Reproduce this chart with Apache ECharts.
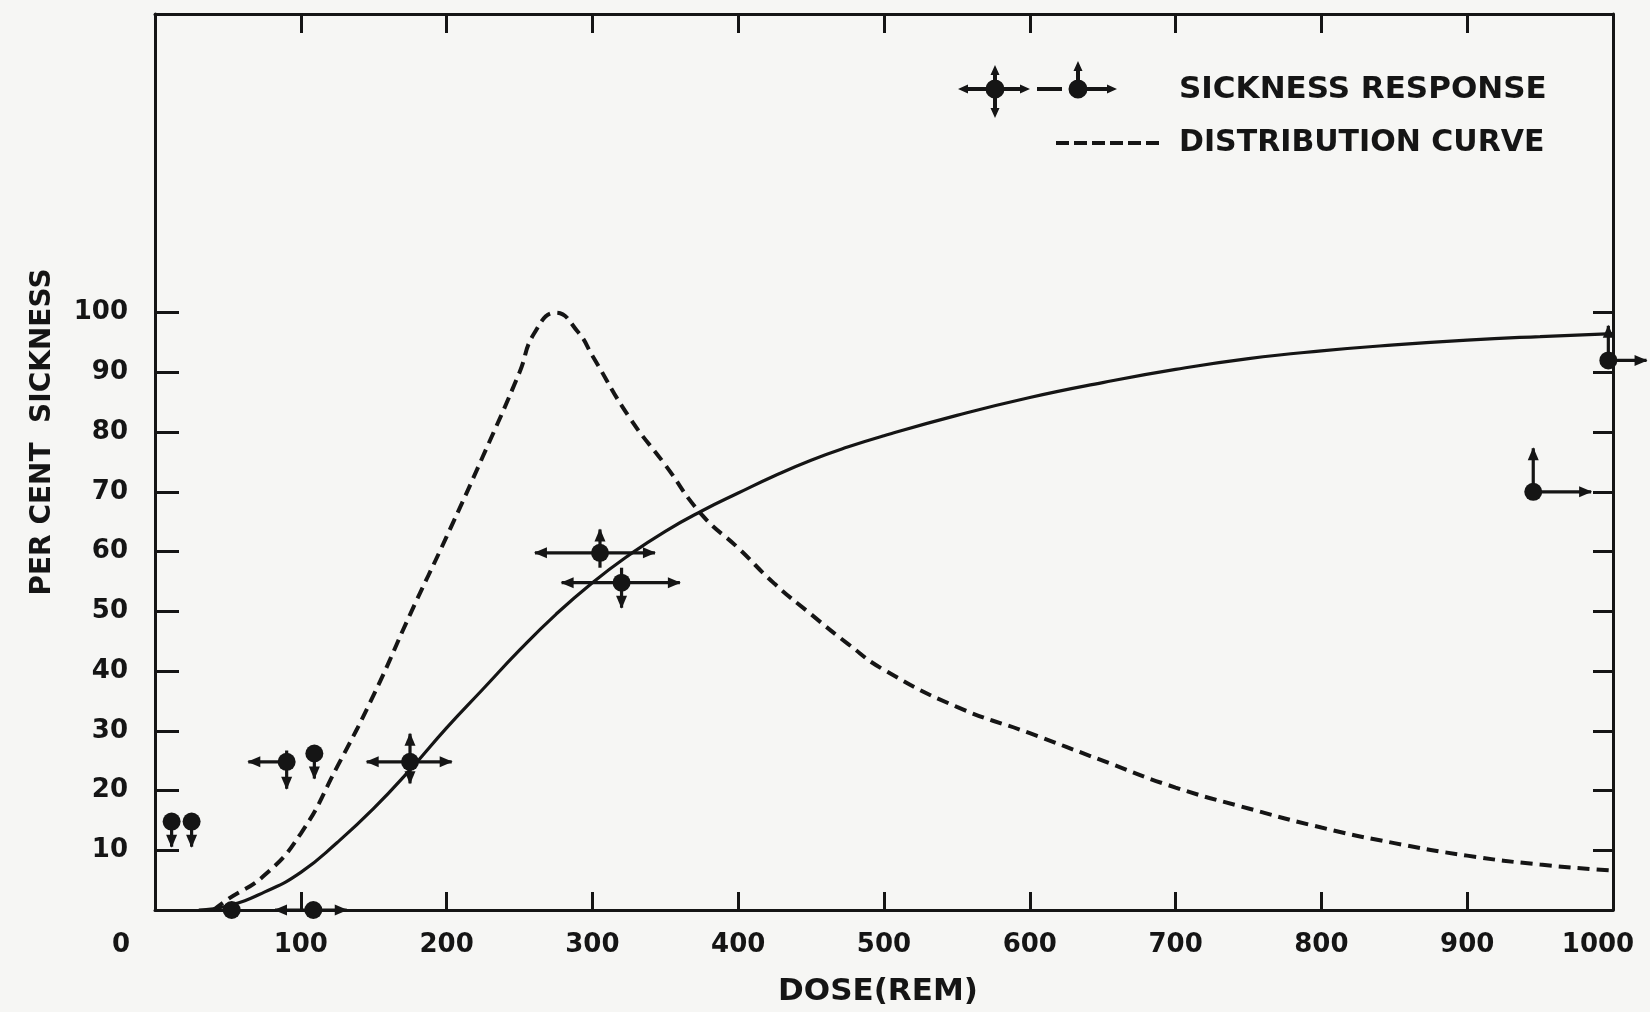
<!DOCTYPE html>
<html><head><meta charset="utf-8">
<script src="https://cdn.jsdelivr.net/npm/echarts@6/dist/echarts.min.js"></script>
<style>html,body{margin:0;padding:0;background:#f6f6f4}#c{width:1650px;height:1012px}</style>
</head><body><div id="c"></div>
<script>
// ---- data ----
const xTickValues = [100, 200, 300, 400, 500, 600, 700, 800, 900];
const yTickValues = [10, 20, 30, 40, 50, 60, 70, 80, 90, 100];

// solid (cumulative) response curve
const fitDose = [30, 50, 75, 100, 125, 150, 175, 200, 225, 250, 275, 300, 325, 350, 375, 400, 425, 450, 475, 500, 550, 600, 650, 700, 750, 800, 850, 900, 950, 1000];
const fitPct  = [0, 0.7, 3, 6.3, 11.3, 17, 23.5, 30.5, 37, 43.5, 49.5, 54.8, 59.4, 63.4, 66.8, 69.8, 72.7, 75.3, 77.5, 79.4, 82.8, 85.8, 88.3, 90.5, 92.3, 93.6, 94.6, 95.4, 96, 96.5];

// dashed distribution curve
const distDose = [40, 50, 75, 100, 125, 150, 175, 200, 225, 250, 260, 275, 290, 300, 325, 350, 375, 400, 425, 450, 475, 500, 550, 600, 650, 700, 750, 800, 850, 900, 950, 1000];
const distPct  = [0, 1.8, 5.8, 12.8, 24, 36, 49.5, 62.5, 76, 90, 96.5, 100, 96.8, 92.8, 82.6, 74.5, 66.2, 60.6, 54.6, 49.5, 44.6, 40.2, 34, 29.6, 25, 20.5, 17, 13.8, 11.2, 9.1, 7.6, 6.6];

// sickness response points with arrow extents (data units); heads = which ends carry arrowheads
const respDose  = [11.4, 25.1, 90.3, 109.3, 174.9, 52.6, 108.6, 305.2, 320, 945.3, 996.8];
const respPct   = [14.8, 14.8, 24.8, 26.2, 24.8, 0, 0, 59.8, 54.8, 70, 92];
const respLeft  = [null, null, 64, null, 145.2, null, 82.3, 260.6, 278.9, null, null];
const respRight = [null, null, null, null, 203.5, null, 131.5, 342.9, 360, 985, 1023];
const respDown  = [10.6, 10.6, 20.3, 22, 21.2, null, null, 57.3, 50.6, null, null];
const respUp    = [null, null, 26.7, null, 29.5, null, null, 63.7, 57.3, 77.3, 97.8];
const respHeads = ['D', 'D', 'LD', 'D', 'LRDU', '', 'LR', 'LRU', 'LRD', 'RU', 'RU'];

// ---- chart ----
const INK = '#151515';
const FONT = 'DejaVu Sans';
const chart = echarts.init(document.getElementById('c'));

function renderResp(params, api) {
  const i = params.dataIndex;
  const c = api.coord([api.value(0), api.value(1)]);
  const kids = [];
  const heads = respHeads[i];
  function arm(tx, ty, key) {
    const e = api.coord([tx, ty]);
    kids.push({type: 'line', shape: {x1: c[0], y1: c[1], x2: e[0], y2: e[1]}, style: {stroke: INK, lineWidth: 3.2}});
    if (heads.indexOf(key) >= 0) {
      const dx = e[0] - c[0], dy = e[1] - c[1];
      const L = Math.hypot(dx, dy) || 1, ux = dx / L, uy = dy / L;
      const bx = e[0] - ux * 12, by = e[1] - uy * 12;
      kids.push({type: 'polygon', shape: {points: [[e[0] + ux, e[1] + uy], [bx - uy * 5.5, by + ux * 5.5], [bx + uy * 5.5, by - ux * 5.5]]}, style: {fill: INK}});
    }
  }
  if (respLeft[i] != null) arm(respLeft[i], respPct[i], 'L');
  if (respRight[i] != null) arm(respRight[i], respPct[i], 'R');
  if (respDown[i] != null) arm(respDose[i], respDown[i], 'D');
  if (respUp[i] != null) arm(respDose[i], respUp[i], 'U');
  kids.push({type: 'circle', shape: {cx: c[0], cy: c[1], r: 9}, style: {fill: INK}});
  return {type: 'group', children: kids};
}

const respIcon = 'path://' +
  'M0,28L10,23.5L10,32.5Z M9,26h57v4h-57Z M72,28L62,32.5L62,23.5Z ' +
  'M79,26h25v4h-25Z ' +
  'M120,26h31v4h-31Z M159,28L149,32.5L149,23.5Z ' +
  'M35,12h4v38h-4Z M37,4L41.5,14L32.5,14Z M37,57L32.5,47L41.5,47Z ' +
  'M118,7h4v21h-4Z M120,0L124.5,10L115.5,10Z ' +
  'M46.5,28A9.5,9.5 0 1,1 27.5,28A9.5,9.5 0 1,1 46.5,28Z ' +
  'M129.5,28A9.5,9.5 0 1,1 110.5,28A9.5,9.5 0 1,1 129.5,28Z';
const dashIcon = 'path://M0,0h13v4h-13Z M18,0h13v4h-13Z M36,0h13v4h-13Z M54,0h13v4h-13Z M72,0h13v4h-13Z M90,0h13v4h-13Z';

const labelStyle = {fontFamily: FONT, fontSize: 26, fontWeight: 'bold', color: INK};
const axisLine = {show: true, onZero: false, lineStyle: {color: INK, width: 3}};

chart.setOption({
  backgroundColor: '#f6f6f4',
  animation: false,
  grid: {left: 155, right: 37, top: 14, bottom: 100, containLabel: false},
  legend: [
    {left: 953, top: 56, orient: 'horizontal', selectedMode: false,
     data: [{name: 'SICKNESS RESPONSE', icon: respIcon}],
     itemWidth: 159, itemHeight: 57, itemStyle: {borderWidth: 0},
     textStyle: {fontFamily: FONT, fontSize: 31, fontWeight: 'bold', color: INK, padding: [0, 0, 0, 57]}},
    {left: 1051, top: 123, orient: 'horizontal', selectedMode: false,
     data: [{name: 'DISTRIBUTION CURVE', icon: dashIcon}],
     itemWidth: 103, itemHeight: 4, itemStyle: {borderWidth: 0},
     textStyle: {fontFamily: FONT, fontSize: 30, fontWeight: 'bold', color: INK, padding: [0, 0, 0, 15]}}
  ],
  xAxis: [
    {type: 'value', position: 'bottom', min: 0, max: 1000, interval: 100,
     axisLine: axisLine,
     axisTick: {show: true, inside: true, length: 18, customValues: xTickValues, lineStyle: {color: INK, width: 3}},
     axisLabel: Object.assign({margin: 22,
       formatter: v => v === 0 ? '{z|0}' : (v === 1000 ? '{r|1000}' : String(v)),
       rich: {z: Object.assign({padding: [0, 68, 0, 0]}, labelStyle), r: Object.assign({padding: [0, 30, 0, 0]}, labelStyle)}}, labelStyle),
     splitLine: {show: false},
     name: 'DOSE(REM)', nameLocation: 'middle', nameGap: 66,
     nameTextStyle: {fontFamily: FONT, fontSize: 31, fontWeight: 'bold', color: INK, padding: [0, 12, 0, 0]}},
    {type: 'value', position: 'top', min: 0, max: 1000, interval: 100,
     axisLine: axisLine,
     axisTick: {show: true, inside: true, length: 19, customValues: xTickValues, lineStyle: {color: INK, width: 3}},
     axisLabel: {show: false}, splitLine: {show: false}}
  ],
  yAxis: [
    {type: 'value', position: 'left', min: 0, max: 150, interval: 10,
     axisLine: axisLine,
     axisTick: {show: true, inside: true, length: 24, customValues: yTickValues, lineStyle: {color: INK, width: 3}},
     axisLabel: Object.assign({margin: 27, customValues: yTickValues}, labelStyle),
     splitLine: {show: false},
     name: 'PER CENT  SICKNESS', nameLocation: 'middle', nameGap: 98,
     nameTextStyle: {fontFamily: FONT, fontSize: 28, fontWeight: 'bold', color: INK, padding: [0, 0, 0, 60]}},
    {type: 'value', position: 'right', min: 0, max: 150, interval: 10,
     axisLine: axisLine,
     axisTick: {show: true, inside: true, length: 20, customValues: yTickValues, lineStyle: {color: INK, width: 3}},
     axisLabel: {show: false}, splitLine: {show: false}}
  ],
  series: [
    {name: 'RESPONSE FIT', type: 'line', xAxisIndex: 0, yAxisIndex: 0, smooth: 0.5, symbol: 'none',
     data: fitDose.map((d, i) => [d, fitPct[i]]),
     lineStyle: {color: INK, width: 3.2}, itemStyle: {color: INK}},
    {name: 'DISTRIBUTION CURVE', type: 'line', xAxisIndex: 0, yAxisIndex: 0, smooth: 0.5, symbol: 'none',
     data: distDose.map((d, i) => [d, distPct[i]]),
     lineStyle: {color: INK, width: 4, type: [12, 7]}, itemStyle: {color: INK}},
    {name: 'SICKNESS RESPONSE', type: 'custom', xAxisIndex: 0, yAxisIndex: 0,
     renderItem: renderResp, clip: false,
     data: respDose.map((d, i) => [d, respPct[i]]),
     encode: {x: 0, y: 1}, itemStyle: {color: INK}, z: 5}
  ]
});
</script>
</body></html>
